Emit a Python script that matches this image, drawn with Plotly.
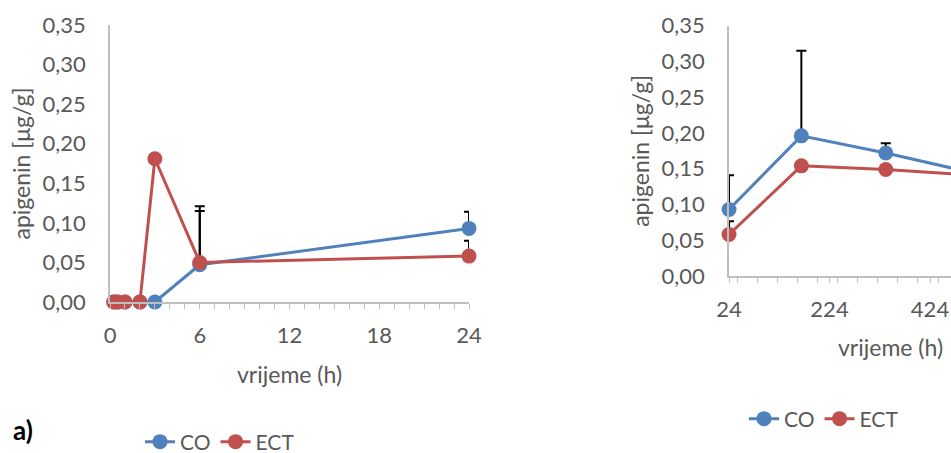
import plotly.graph_objects as go

# ---- data ----
t_short = [0.25, 0.5, 1, 2, 3, 6, 24]
co_short = [0, 0, 0, 0, 0, 0.047, 0.093]
co_short_err = [0, 0, 0, 0, 0, 0.074, 0.021]
ect_short = [0, 0, 0, 0, 0.181, 0.050, 0.058]
ect_short_err = [0, 0, 0, 0, 0, 0.065, 0.0195]

t_long = [24, 168, 336, 504]
co_long = [0.093, 0.196, 0.172, 0.145]
co_long_err = [0.048, 0.119, 0.0135, 0]
ect_long = [0.058, 0.154, 0.149, 0.141]
ect_long_err = [0.0186, 0, 0, 0]

BLUE = '#4F81BD'
RED = '#C0504D'
GREY = '#595959'
AXIS = '#BFBFBF'
FONT = 'Lato'

# the window shows 951x453; the figure runs a little past the bottom edge so the
# bottom legend (which touches the edge in the original) does not push the margins
W, H = 951, 475


def px_x(a, b):
    return [a / W, b / W]


def px_y(top, bottom):
    return [1 - bottom / H, 1 - top / H]


fig = go.Figure()


def add_series(x, y, err, color, name, xa, ya, legend):
    fig.add_trace(go.Scatter(
        x=x, y=y, mode='lines+markers', name=name,
        xaxis=xa, yaxis=ya, legend=legend, cliponaxis=False,
        line=dict(color=color, width=3),
        marker=dict(color=color, size=15),
        error_y=dict(type='data', array=err, arrayminus=[0] * len(err),
                     symmetric=False, color='black', thickness=2, width=5)
    ))


add_series(t_short, co_short, co_short_err, BLUE, 'CO', 'x', 'y', 'legend')
add_series(t_short, ect_short, ect_short_err, RED, 'ECT', 'x', 'y', 'legend')
add_series(t_long, co_long, co_long_err, BLUE, 'CO', 'x2', 'y2', 'legend2')
add_series(t_long, ect_long, ect_long_err, RED, 'ECT', 'x2', 'y2', 'legend2')

tick_font = dict(family=FONT, size=22, color=GREY)
title_font = dict(family=FONT, size=23, color=GREY)

xcommon = dict(showgrid=False, zeroline=False, showline=True, linecolor=AXIS, linewidth=1.5,
               ticks='outside', ticklen=5, tickcolor=AXIS, tickfont=tick_font,
               title_font=title_font, automargin=False, ticklabelstandoff=8)
ycommon = dict(showgrid=False, zeroline=False, showline=True, linecolor=AXIS, linewidth=1.5,
               range=[0, 0.35], dtick=0.05, tickformat='.2f', tickfont=tick_font,
               automargin=False, ticklabelstandoff=18,
               title=dict(text='apigenin [μg/g]', font=title_font, standoff=6))

fig.update_layout(
    width=W, height=H, margin=dict(l=0, r=0, t=0, b=0),
    paper_bgcolor='white', plot_bgcolor='white',
    separators=', ', font=dict(family=FONT, color=GREY),
    xaxis=dict(xcommon, domain=px_x(110, 469), range=[0, 24], tick0=0, dtick=6,
               minor=dict(ticks='outside', ticklen=5, tickcolor=AXIS, dtick=1),
               title=dict(text='vrijeme (h)', standoff=20), anchor='y'),
    yaxis=dict(ycommon, domain=px_y(25, 302), anchor='x'),
    xaxis2=dict(xcommon, domain=px_x(729, 951), range=[24, 24 + (951 - 729) / 0.5025],
                tick0=24, dtick=200,
                minor=dict(ticks='outside', ticklen=5, tickcolor=AXIS, dtick=40),
                title=dict(text=''), anchor='y2'),
    yaxis2=dict(ycommon, domain=px_y(25.7, 276), anchor='x2'),
    legend=dict(orientation='h', x=140 / W, y=1 - 442 / H, xanchor='left', yanchor='middle',
                font=dict(family=FONT, size=21, color=GREY), bgcolor='rgba(0,0,0,0)'),
    legend2=dict(orientation='h', x=744 / W, y=1 - 419 / H, xanchor='left', yanchor='middle',
                 font=dict(family=FONT, size=21, color=GREY), bgcolor='rgba(0,0,0,0)'),
    showlegend=True,
)

# right-panel x title sits partly past the paper edge
fig.add_annotation(text='vrijeme (h)', xref='paper', yref='paper', x=890 / W, y=1 - 347 / H,
                   showarrow=False, font=title_font, xanchor='center', yanchor='middle')
fig.add_annotation(text='<b>a)</b>', xref='paper', yref='paper', x=11 / W, y=1 - 430 / H,
                   showarrow=False, font=dict(family=FONT, size=26, color='black'),
                   xanchor='left', yanchor='middle')

# drop the default 8px page margin so the figure fills the window exactly
fig.write_html('out.html', config=dict(displayModeBar=False),
               post_script="document.body.style.margin='0';document.body.style.overflow='hidden';")
